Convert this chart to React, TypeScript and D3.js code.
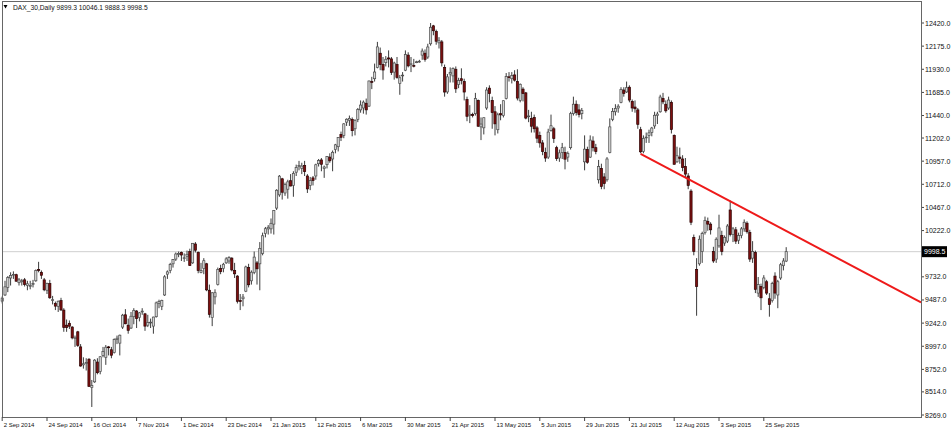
import React from "react";
import * as d3 from "d3";

type Bar = [number, number, number, number]; // open, high, low, close

const sep2014: Bar[] = [
  [9475, 9525, 9450, 9507], [9540, 9690, 9530, 9626], [9620, 9740, 9570, 9724], [9720, 9780, 9640, 9747],
  [9750, 9790, 9710, 9758], [9755, 9765, 9680, 9686], [9670, 9720, 9640, 9700], [9680, 9710, 9640, 9691],
  [9700, 9720, 9630, 9651], [9640, 9690, 9590, 9659], [9630, 9690, 9600, 9640], [9650, 9700, 9620, 9661],
  [9690, 9810, 9680, 9799], [9810, 9891, 9780, 9798], [9780, 9800, 9710, 9749], [9700, 9720, 9580, 9595],
  [9590, 9670, 9550, 9661], [9660, 9700, 9500, 9510], [9490, 9530, 9440, 9490], [9450, 9470, 9380, 9422],
  [9420, 9480, 9360, 9474],
];
const oct2014: Bar[] = [
  [9480, 9510, 9370, 9382], [9380, 9400, 9150, 9195], [9220, 9280, 9150, 9195], [9240, 9270, 9180, 9209],
  [9200, 9210, 9070, 9086], [9080, 9110, 8990, 9086], [9150, 9160, 8990, 9005], [8990, 9020, 8780, 8788],
  [8800, 8880, 8760, 8812], [8820, 8870, 8740, 8825], [8860, 8870, 8570, 8571], [8560, 8640, 8354, 8582],
  [8620, 8860, 8610, 8850], [8830, 8870, 8700, 8717], [8730, 8890, 8700, 8886], [8900, 8990, 8880, 8940],
  [8880, 9010, 8800, 8987], [8990, 9000, 8900, 8988], [8960, 8990, 8870, 8902], [8930, 9080, 8920, 9068],
  [9070, 9110, 9020, 9082], [9030, 9120, 8900, 9114], [9200, 9340, 9180, 9326],
];
const nov2014: Bar[] = [
  [9330, 9390, 9230, 9235], [9220, 9290, 9130, 9166], [9190, 9360, 9180, 9315], [9310, 9400, 9230, 9377],
  [9370, 9380, 9190, 9291], [9300, 9360, 9260, 9351], [9360, 9400, 9330, 9369], [9340, 9350, 9160, 9210],
  [9220, 9330, 9200, 9248], [9250, 9290, 9190, 9252], [9210, 9310, 9130, 9306], [9310, 9470, 9300, 9456],
  [9450, 9490, 9400, 9472], [9420, 9490, 9380, 9483], [9540, 9750, 9530, 9732], [9760, 9800, 9710, 9785],
  [9800, 9880, 9770, 9862], [9870, 9920, 9830, 9915], [9920, 9990, 9900, 9974], [9970, 10000, 9940, 9980],
];
const dec2014: Bar[] = [
  [9990, 10000, 9900, 9963], [9930, 9980, 9890, 9934], [9950, 10010, 9900, 9971], [10000, 10030, 9850, 9851],
  [9880, 10090, 9870, 10087], [10080, 10100, 9990, 10014], [9990, 10000, 9770, 9799], [9780, 9880, 9770, 9800],
  [9820, 9930, 9760, 9903], [9870, 9880, 9580, 9594], [9590, 9650, 9300, 9335], [9300, 9570, 9210, 9563],
  [9520, 9600, 9440, 9564], [9650, 9830, 9640, 9811], [9820, 9860, 9760, 9787], [9820, 9880, 9780, 9865],
  [9880, 9940, 9870, 9922], [9900, 9950, 9870, 9936], [9930, 9940, 9790, 9805],
];
const jan2015: Bar[] = [
  [9800, 9880, 9720, 9764], [9740, 9750, 9450, 9473], [9480, 9550, 9380, 9470], [9500, 9550, 9420, 9518],
  [9580, 9850, 9570, 9837], [9830, 9870, 9620, 9648], [9690, 9800, 9650, 9781], [9780, 10000, 9760, 9941],
  [9880, 9900, 9650, 9817], [9870, 10100, 9590, 10032], [9980, 10200, 9960, 10167], [10190, 10260, 10150, 10242],
  [10240, 10280, 10180, 10257], [10240, 10350, 10190, 10299], [10290, 10440, 10180, 10435], [10460, 10660, 10440, 10649],
  [10600, 10810, 10580, 10798], [10770, 10780, 10550, 10628], [10620, 10730, 10590, 10710], [10660, 10760, 10560, 10738],
  [10750, 10820, 10690, 10694],
];
const feb2015: Bar[] = [
  [10700, 10850, 10580, 10828], [10840, 10920, 10800, 10890], [10900, 10960, 10860, 10911], [10880, 10940, 10820, 10905],
  [10910, 10960, 10800, 10846], [10800, 10820, 10620, 10663], [10700, 10790, 10650, 10752], [10780, 10800, 10700, 10752],
  [10800, 10930, 10760, 10919], [10930, 10980, 10900, 10963], [10970, 10990, 10850, 10924], [10880, 10910, 10780, 10895],
  [10920, 11010, 10880, 11005], [11000, 11040, 10940, 10961], [10980, 11070, 10850, 11051], [11080, 11140, 11040, 11130],
  [11110, 11210, 11060, 11206], [11240, 11270, 11170, 11210], [11230, 11360, 11200, 11352], [11370, 11410, 11330, 11401],
];
const mar2015: Bar[] = [
  [11390, 11440, 11330, 11410], [11400, 11420, 11220, 11280], [11300, 11400, 11230, 11390], [11400, 11520, 11370, 11504],
  [11500, 11600, 11470, 11551], [11520, 11600, 11460, 11582], [11570, 11620, 11450, 11500], [11540, 11810, 11530, 11806],
  [11800, 11850, 11720, 11799], [11830, 11990, 11800, 11901], [11950, 12220, 11940, 12167], [12100, 12160, 11920, 11980],
  [11980, 12060, 11820, 11922], [12000, 12070, 11960, 12036], [12050, 12130, 11950, 12039], [12040, 12060, 11870, 11896],
  [11900, 12010, 11820, 11996], [11980, 12060, 11830, 11843], [11780, 11870, 11660, 11840], [11860, 11900, 11800, 11868],
  [11920, 12130, 11910, 12086], [12080, 12110, 11950, 11966],
];
const apr2015: Bar[] = [
  [11980, 12060, 11900, 11988], [11970, 12040, 11950, 11967], [12000, 12020, 11995, 12010], [12010, 12030, 12000, 12015],
  [12080, 12150, 12030, 12123], [12100, 12140, 12010, 12035], [12060, 12200, 12040, 12166], [12200, 12420, 12180, 12375],
  [12390, 12400, 12290, 12338], [12330, 12350, 12190, 12227], [12210, 12270, 12150, 12232], [12220, 12240, 11960, 11998],
  [11950, 11980, 11640, 11689], [11690, 11880, 11670, 11850], [11880, 11950, 11790, 11896], [11860, 11950, 11790, 11939],
  [11930, 11960, 11680, 11723], [11770, 11840, 11730, 11811], [11830, 11940, 11770, 11811], [11800, 11830, 11600, 11689],
  [11610, 11640, 11380, 11432], [11440, 11550, 11360, 11454],
];
const may2015: Bar[] = [
  [11450, 11470, 11420, 11440], [11460, 11680, 11440, 11621], [11600, 11610, 11320, 11327], [11320, 11420, 11180, 11350],
  [11310, 11420, 11240, 11417], [11520, 11740, 11500, 11710], [11730, 11760, 11580, 11672], [11600, 11640, 11300, 11472],
  [11480, 11540, 11230, 11352], [11290, 11470, 11250, 11448], [11460, 11560, 11390, 11447], [11440, 11600, 11420, 11597],
  [11620, 11890, 11610, 11853], [11850, 11900, 11800, 11848], [11830, 11900, 11780, 11864], [11870, 11920, 11800, 11815],
  [11800, 11930, 11600, 11625], [11600, 11780, 11580, 11771], [11720, 11740, 11590, 11672], [11680, 11690, 11400, 11413],
];
const jun2015: Bar[] = [
  [11430, 11500, 11370, 11436], [11410, 11480, 11260, 11327], [11420, 11450, 11260, 11300], [11310, 11330, 11150, 11200],
  [11230, 11270, 11100, 11150], [11150, 11180, 11020, 11060], [11050, 11100, 10950, 10990], [11000, 11300, 10980, 11265],
  [11280, 11450, 11270, 11332], [11300, 11320, 11150, 11196], [11100, 11120, 10960, 10984], [10990, 11080, 10950, 11045],
  [11050, 11150, 10980, 11100], [11050, 11110, 10870, 10978], [11000, 11060, 10950, 11040], [11100, 11480, 11080, 11460],
  [11460, 11640, 11440, 11560], [11560, 11600, 11440, 11471], [11500, 11560, 11420, 11450], [11460, 11520, 11400, 11492],
  [10950, 11230, 10860, 11084], [11080, 11110, 10930, 10945],
];
const jul2015: Bar[] = [
  [11000, 11230, 10990, 11180], [11170, 11220, 11060, 11099], [11100, 11140, 11030, 11058], [10760, 10970, 10720, 10900],
  [10880, 10930, 10660, 10690], [10790, 10830, 10660, 10720], [10760, 11000, 10740, 10980], [11050, 11410, 11040, 11320],
  [11400, 11520, 11380, 11484], [11480, 11560, 11440, 11516], [11520, 11560, 11470, 11539], [11580, 11740, 11570, 11717],
  [11710, 11740, 11640, 11673], [11690, 11800, 11680, 11735], [11740, 11760, 11580, 11604], [11590, 11610, 11480, 11520],
  [11530, 11600, 11470, 11512], [11500, 11520, 11300, 11347], [11290, 11320, 11040, 11056], [11060, 11230, 11040, 11199],
  [11210, 11260, 11150, 11212], [11230, 11290, 11150, 11257], [11260, 11320, 11220, 11308],
];
const aug2015: Bar[] = [
  [11330, 11480, 11300, 11443], [11440, 11480, 11350, 11456], [11480, 11660, 11470, 11636], [11620, 11680, 11560, 11585],
  [11560, 11600, 11470, 11490], [11520, 11640, 11500, 11604], [11580, 11600, 11250, 11293], [11230, 11240, 10920, 10924],
  [10950, 11110, 10940, 11014], [11000, 11100, 10930, 10985], [10980, 11020, 10850, 10890], [10900, 10990, 10780, 10820],
  [10800, 10830, 10660, 10700], [10640, 10660, 10280, 10310], [10150, 10180, 9960, 10000], [9810, 9930, 9320, 9630],
  [9870, 10170, 9850, 10130], [10000, 10210, 9880, 10190], [10200, 10370, 10180, 10330], [10320, 10360, 10220, 10290],
  [10290, 10310, 10180, 10230],
];
const sep2015: Bar[] = [
  [10000, 10050, 9880, 9900], [9920, 10150, 9880, 10130], [10060, 10390, 10040, 10250], [10170, 10220, 9960, 10000],
  [10090, 10170, 10060, 10150], [10110, 10290, 10090, 10270], [10440, 10540, 10160, 10180], [10180, 10260, 10100, 10240],
  [10230, 10260, 10080, 10110], [10120, 10200, 10080, 10170], [10170, 10260, 10140, 10240], [10240, 10340, 10210, 10310],
  [10300, 10320, 10190, 10210], [10200, 10230, 9890, 9920], [9930, 10110, 9880, 10000], [9990, 10010, 9560, 9600],
  [9560, 9730, 9520, 9650], [9630, 9660, 9380, 9510], [9620, 9750, 9600, 9720], [9680, 9700, 9540, 9560],
  [9500, 9560, 9310, 9440], [9480, 9680, 9460, 9660],
];
const oct2015: Bar[] = [
  [9740, 9780, 9500, 9560], [9540, 9700, 9400, 9680], [9720, 9880, 9700, 9860], [9850, 9930, 9800, 9900],
  [9899.3, 10046.1, 9888.3, 9998.5],
];

const candles: Bar[] = [
  ...sep2014, ...oct2014, ...nov2014, ...dec2014, ...jan2015, ...feb2015, ...mar2015,
  ...apr2015, ...may2015, ...jun2015, ...jul2015, ...aug2015, ...sep2015, ...oct2015,
];

const dateTickLabels = [
  "2 Sep 2014", "24 Sep 2014", "16 Oct 2014", "7 Nov 2014", "1 Dec 2014", "23 Dec 2014",
  "21 Jan 2015", "12 Feb 2015", "6 Mar 2015", "30 Mar 2015", "21 Apr 2015", "13 May 2015",
  "5 Jun 2015", "29 Jun 2015", "21 Jul 2015", "12 Aug 2015", "3 Sep 2015", "25 Sep 2015",
];
const dateTickStep = 16;
const priceTicks = [12420, 12175, 11930, 11685, 11440, 11202, 10957, 10712, 10467, 10222, 9732, 9487, 9242, 8997, 8752, 8514, 8269];
const trendAnchors = [
  { i: 228, p: 11035 },
  { i: 260, p: 10532 },
];
const symbolName = "DAX_30,Daily";

const W = 951;
const H = 430;
const plotLeft = 2;
const plotRight = 921;
const plotTop = 1;
const plotBottom = 417;

export default function App() {
  const n = candles.length;
  const x = d3.scaleLinear().domain([0, n - 1]).range([2.2, 2.2 + 2.8 * (n - 1)]);
  const y = d3.scaleLinear().domain([8269, 12420]).range([415, 23]);
  const last = candles[n - 1];
  const lastClose = last[3];
  const bodyW = 2.2;

  const slope = (trendAnchors[1].p - trendAnchors[0].p) / (trendAnchors[1].i - trendAnchors[0].i);
  const iEnd = x.invert(plotRight);
  const pEnd = trendAnchors[0].p + slope * (iEnd - trendAnchors[0].i);
  const trendPath = d3.line<[number, number]>().x((d) => x(d[0])).y((d) => y(d[1]))([
    [trendAnchors[0].i, trendAnchors[0].p],
    [iEnd, pEnd],
  ]) as string;

  const font = "'Liberation Sans', Arial, sans-serif";
  const header = `${symbolName}  ${last.map((v) => v.toFixed(1)).join(" ")}`;
  const yLast = y(lastClose);

  return (
    <div style={{ position: "fixed", left: 0, top: 0, width: W, height: H, background: "#fff" }}>
      <svg width={W} height={H} style={{ display: "block" }}>
        <rect x={0} y={0} width={W} height={H} fill="#fff" />
        {/* current price line */}
        <line x1={plotLeft} x2={plotRight} y1={yLast} y2={yLast} stroke="#cfcfcf" strokeWidth={1} />
        {/* wicks */}
        {candles.map((c, i) => (
          <line key={"w" + i} x1={x(i)} x2={x(i)} y1={y(c[1])} y2={y(c[2])} stroke="#3c3c3c" strokeWidth={1} />
        ))}
        {/* bodies */}
        {candles.map((c, i) => {
          const [o, , , cl] = c;
          const bull = cl >= o;
          const top = y(Math.max(o, cl));
          const h = Math.max(0.8, Math.abs(y(o) - y(cl)));
          return (
            <rect
              key={"b" + i}
              x={x(i) - bodyW / 2}
              y={top}
              width={bodyW}
              height={h}
              fill={bull ? "#d6d6d6" : "#7d0f0f"}
              stroke={bull ? "#4a4a4a" : "#2a0000"}
              strokeWidth={0.7}
            />
          );
        })}
        {/* trend line */}
        <path d={trendPath} stroke="#ee1a1a" strokeWidth={2} fill="none" />
        {/* frame */}
        <line x1={plotLeft} x2={plotRight} y1={plotTop + 0.5} y2={plotTop + 0.5} stroke="#666" strokeWidth={1} />
        <line x1={plotLeft + 0.5} x2={plotLeft + 0.5} y1={plotTop} y2={plotBottom} stroke="#666" strokeWidth={1} />
        <line x1={plotLeft} x2={plotRight} y1={plotBottom + 0.5} y2={plotBottom + 0.5} stroke="#666" strokeWidth={1} />
        <line x1={plotRight + 0.5} x2={plotRight + 0.5} y1={plotTop} y2={plotBottom + 1} stroke="#666" strokeWidth={1} />
        {/* price ticks */}
        {priceTicks.map((p) => (
          <g key={"p" + p}>
            <line x1={plotRight + 1} x2={plotRight + 3} y1={y(p)} y2={y(p)} stroke="#444" strokeWidth={1} />
            <text x={plotRight + 4} y={y(p) + 2.5} fontSize={7} fontFamily={font} fill="#111">
              {p.toFixed(1)}
            </text>
          </g>
        ))}
        {/* last price label */}
        <rect x={plotRight + 1} y={yLast - 5.5} width={25} height={11} fill="#000" />
        <text x={plotRight + 3} y={yLast + 2.5} fontSize={7} fontFamily={font} fill="#fff">
          {lastClose.toFixed(1)}
        </text>
        {/* date ticks */}
        {dateTickLabels.map((lab, k) => {
          const xi = x(k * dateTickStep);
          return (
            <g key={"d" + k}>
              <line x1={xi} x2={xi} y1={plotBottom} y2={plotBottom + 4} stroke="#444" strokeWidth={1} />
              <text x={xi + 1.5} y={426.5} fontSize={6} fontFamily={font} fill="#111">
                {lab}
              </text>
            </g>
          );
        })}
        {/* header */}
        <path d="M3.5,5 L7.5,5 L5.5,8.5 Z" fill="#000" />
        <text x={13} y={9.5} fontSize={6.7} fontFamily={font} fill="#111">
          {header}
        </text>
      </svg>
    </div>
  );
}
